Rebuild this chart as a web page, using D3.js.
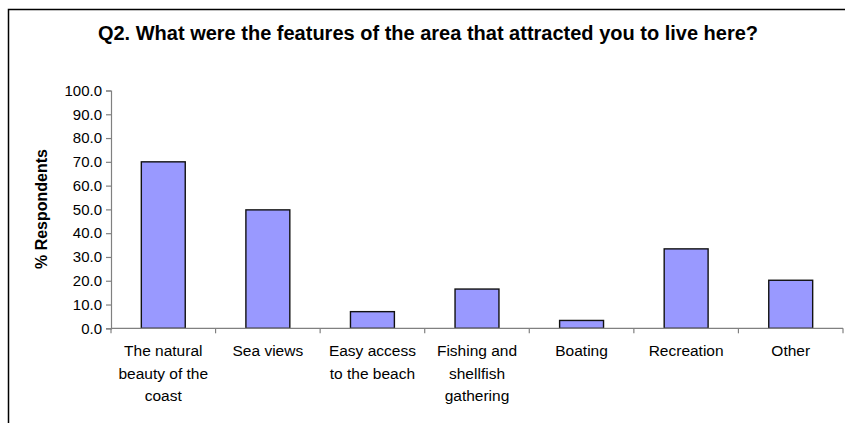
<!DOCTYPE html>
<html>
<head>
<meta charset="utf-8">
<script src="https://cdn.jsdelivr.net/npm/d3@7"></script>
<style>
  html, body { margin: 0; padding: 0; background: #fff; }
  svg { display: block; }
  text { font-family: Arial, "Liberation Sans", sans-serif; fill: #000; }
</style>
</head>
<body>
<svg id="chart" width="845" height="423"></svg>
<script>
const title = "Q2. What were the features of the area that attracted you to live here?";
const yAxisTitle = "% Respondents";
const categories = [
  "The natural\nbeauty of the\ncoast",
  "Sea views",
  "Easy access\nto the beach",
  "Fishing and\nshellfish\ngathering",
  "Boating",
  "Recreation",
  "Other"
];
const values = [70.0, 49.8, 7.0, 16.5, 3.3, 33.4, 20.2];
const yTicks = [0, 10, 20, 30, 40, 50, 60, 70, 80, 90, 100];

const svg = d3.select("#chart");
const margin = { left: 111, right: 2, top: 90.5, bottom: 95 };
const W = 845, H = 423;

// frame
svg.append("path")
  .attr("d", `M8.5,${H + 5} V9.5 H${W + 5}`)
  .attr("fill", "none").attr("stroke", "#000").attr("stroke-width", 1.5);

const x = d3.scaleBand()
  .domain(categories)
  .range([margin.left, 843])
  .paddingInner(0.58).paddingOuter(0.29);

const y = d3.scaleLinear().domain([0, 100]).range([328.3, margin.top]);

// title
svg.append("text")
  .attr("x", 428).attr("y", 40)
  .attr("text-anchor", "middle")
  .style("font-weight", "bold").style("font-size", "20px")
  .text(title);

// y axis title
svg.append("text")
  .attr("transform", "translate(47,209) rotate(-90)")
  .attr("text-anchor", "middle")
  .style("font-weight", "bold").style("font-size", "16px")
  .text(yAxisTitle);

// bars
svg.append("g").selectAll("rect")
  .data(values)
  .join("rect")
  .attr("x", (d, i) => x(categories[i]))
  .attr("width", x.bandwidth())
  .attr("y", d => y(d))
  .attr("height", d => y(0) - y(d))
  .attr("fill", "#9999ff")
  .attr("stroke", "#111")
  .attr("stroke-width", 1.4);

// y axis
const yAxis = svg.append("g")
  .attr("transform", `translate(${margin.left},0)`)
  .call(d3.axisLeft(y).tickValues(yTicks).tickFormat(d3.format(".1f")).tickSize(5).tickPadding(4));
yAxis.select(".domain").attr("stroke", "#808080").attr("stroke-width", 1.2);
yAxis.selectAll(".tick line").attr("stroke", "#808080").attr("stroke-width", 1.2);
yAxis.selectAll(".tick text").style("font-size", "15px").style("font-family", "Arial, 'Liberation Sans', sans-serif").attr("fill", "#000");

// x axis: ticks at band boundaries
const step = x.step();
const boundaries = d3.range(categories.length + 1).map(i => margin.left + i * step);
const xg = svg.append("g");
xg.append("line")
  .attr("x1", margin.left).attr("x2", 843)
  .attr("y1", y(0)).attr("y2", y(0))
  .attr("stroke", "#808080").attr("stroke-width", 1.2);
xg.selectAll("line.tk").data(boundaries).join("line")
  .attr("class", "tk")
  .attr("x1", d => d).attr("x2", d => d)
  .attr("y1", y(0)).attr("y2", y(0) + 5)
  .attr("stroke", "#808080").attr("stroke-width", 1.2);

// x labels
const lbl = xg.selectAll("text.cat").data(categories).join("text")
  .attr("class", "cat")
  .attr("text-anchor", "middle")
  .style("font-size", "15.5px")
  .attr("x", d => x(d) + x.bandwidth() / 2)
  .attr("y", 356);
lbl.selectAll("tspan").data(d => d.split("\n")).join("tspan")
  .attr("x", function() { return d3.select(this.parentNode).attr("x"); })
  .attr("dy", (d, i) => i === 0 ? 0 : 22.5)
  .text(d => d);
</script>
</body>
</html>
